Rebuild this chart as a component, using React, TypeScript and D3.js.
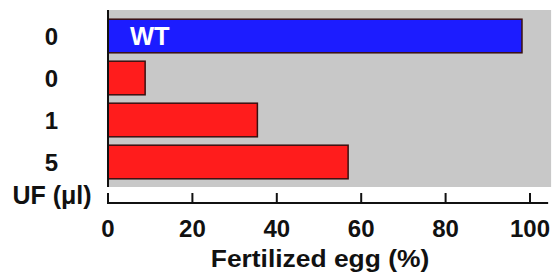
import * as d3 from "d3";

const groups = ["wt", "uf0", "uf1", "uf5"];
const groupLabels = ["0", "0", "1", "5"];
const fertilized = [98.1, 8.8, 35.4, 56.9];
const barColors = ["#1c1cff", "#ff1c1c", "#ff1c1c", "#ff1c1c"];
const xTicks = [0, 20, 40, 60, 80, 100];

const width = 553;
const height = 275;
const font = "'Liberation Sans', Arial, sans-serif";

export default function App() {
    const x = d3.scaleLinear([0, 100], [108, 530]);
    const y = d3.scaleBand(groups, [15, 183]).paddingInner(0.2).paddingOuter(0.1);
    const axisY = 203;

    return (
        <svg width={width} height={height} style={{ position: "absolute", left: 0, top: 0 }} fontFamily={font}>
            {/* plot background */}
            <rect x={x(0)} y={10} width={x(105) - x(0)} height={177} fill="#c8c8c8" />

            {groups.map((g, i) => (
                <rect
                    key={g}
                    x={x(0)}
                    y={y(g)}
                    width={x(fertilized[i]) - x(0)}
                    height={y.bandwidth()}
                    fill={barColors[i]}
                    stroke="#3a1010"
                    strokeWidth={1.5}
                />
            ))}

            <text x={x(5.2)} y={(y("wt") ?? 0) + y.bandwidth() / 2} dy="0.36em" fill="white" fontSize={25.5} fontWeight="bold">WT</text>

            {/* left axis line */}
            <line x1={x(0)} x2={x(0)} y1={10} y2={187} stroke="#111" strokeWidth={2} />

            {/* category labels */}
            {groups.map((g, i) => (
                <text key={g} x={51.5} y={(y(g) ?? 0) + y.bandwidth() / 2} dy="0.36em" textAnchor="middle" fontSize={24} fontWeight="bold" fill="#111">
                    {groupLabels[i]}
                </text>
            ))}
            <text x={52} y={204} textAnchor="middle" fontSize={25} fontWeight="bold" fill="#111">UF (μl)</text>

            {/* x axis */}
            <line x1={x(0) - 1} x2={x(104.3)} y1={axisY} y2={axisY} stroke="#111" strokeWidth={2} />
            {xTicks.map(t => (
                <g key={t}>
                    <line x1={x(t)} x2={x(t)} y1={axisY} y2={axisY - 10} stroke="#111" strokeWidth={2} />
                    <text x={x(t)} y={237} textAnchor="middle" fontSize={24} fontWeight="bold" fill="#111">{t}</text>
                </g>
            ))}
            {/* axis title is a bit wider than plain Arial Bold in the original */}
            <text transform="translate(320,267) scale(1.1,1)" textAnchor="middle" fontSize={24} fontWeight="bold" fill="#111">Fertilized egg (%)</text>
        </svg>
    );
}
